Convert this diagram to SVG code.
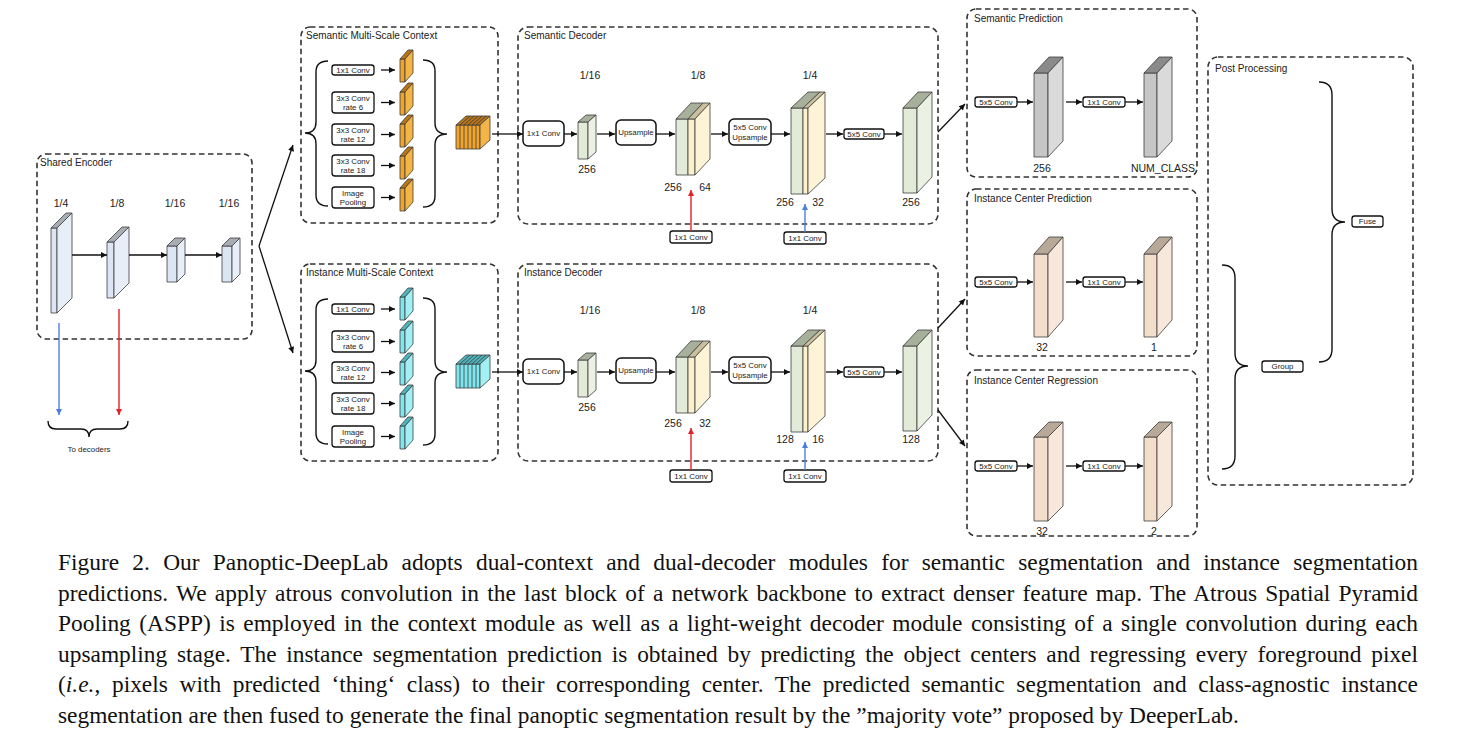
<svg xmlns="http://www.w3.org/2000/svg" width="1476" height="744" viewBox="0 0 1476 744">
<style>
.bg{fill:#fff}
.grp{fill:none;stroke:#333;stroke-width:1.6;stroke-dasharray:5.5 3.5}
.ttl{font-family:"Liberation Sans",Arial,sans-serif;font-size:10px;fill:#222}
.lbl{font-family:"Liberation Sans",Arial,sans-serif;font-size:10.5px;fill:#222;text-anchor:middle}
.bt{font-family:"Liberation Sans",Arial,sans-serif;font-size:7.9px;fill:#222;text-anchor:middle}
.nb{fill:#fff;stroke:#111;stroke-width:1.3}
.nbb{fill:#fff;stroke:#111;stroke-width:1.5}
.cube rect,.cube polygon{stroke:#3c3c3c;stroke-width:0.8;stroke-linejoin:round}
.blue .f{fill:#dce5f3}.blue .t{fill:#a8adb4}.blue .s{fill:#e8eef8}
.org .f{fill:#f0a42c}.org .t{fill:#b87418}.org .s{fill:#f5b446}
.cyan .f{fill:#7ee6ee}.cyan .t{fill:#4fb4bc}.cyan .s{fill:#a2eff4}
.grn .f{fill:#e2ebd7}.grn .t{fill:#a6b09b}.grn .s{fill:#ebf1e3}
.yel .f{fill:#fdf1cb}.yel .t{fill:#cbbf9d}.yel .s{fill:#fdf3d6}
.gry .f{fill:#c6c6c6}.gry .t{fill:#8a8a8a}.gry .s{fill:#dadada}
.pch .f{fill:#f3ddcb}.pch .t{fill:#b8a898}.pch .s{fill:#f8e8dc}
.strp{stroke:#3c3c3c;stroke-width:0.8;fill:none}
.brace{fill:none;stroke:#111;stroke-width:1.4}
.ar{fill:none;stroke:#111;stroke-width:1.3}
.arb{fill:none;stroke:#4a7fe0;stroke-width:1.4}
.arr{fill:none;stroke:#e52222;stroke-width:1.4}
.cap{font-family:"Liberation Serif","Times New Roman",serif;font-size:23.4px;fill:#111}
</style>
<defs>
<marker id="ah" viewBox="0 0 10 10" refX="10" refY="5" markerWidth="7" markerHeight="6" orient="auto" markerUnits="userSpaceOnUse"><path d="M0,0 L10,5 L0,10 z" fill="#111"/></marker>
<marker id="ahb" viewBox="0 0 10 10" refX="10" refY="5" markerWidth="8" markerHeight="6" orient="auto" markerUnits="userSpaceOnUse"><path d="M0,0 L10,5 L0,10 z" fill="#4a7fe0"/></marker>
<marker id="ahr" viewBox="0 0 10 10" refX="10" refY="5" markerWidth="8" markerHeight="6" orient="auto" markerUnits="userSpaceOnUse"><path d="M0,0 L10,5 L0,10 z" fill="#e52222"/></marker>
</defs>
<rect class="bg" x="0" y="0" width="1476" height="744"/>

<!-- Shared Encoder -->
<g id="shared-encoder">
<rect class="grp" x="37" y="154" width="215" height="185" rx="9"/>
<text class="ttl" x="40" y="166">Shared Encoder</text>
<text class="lbl" x="61" y="207">1/4</text>
<text class="lbl" x="117" y="207">1/8</text>
<text class="lbl" x="175" y="207">1/16</text>
<text class="lbl" x="229" y="207">1/16</text>
<g class="cube blue"><rect class="f" x="51" y="228" width="6" height="85"/><polygon class="t" points="51,228 66,213 72,213 57,228"/><polygon class="s" points="57,228 72,213 72,298 57,313"/></g>
<g class="cube blue"><rect class="f" x="107" y="242" width="7" height="56"/><polygon class="t" points="107,242 122,227 129,227 114,242"/><polygon class="s" points="114,242 129,227 129,283 114,298"/></g>
<g class="cube blue"><rect class="f" x="167" y="246" width="10" height="36"/><polygon class="t" points="167,246 175,238 185,238 177,246"/><polygon class="s" points="177,246 185,238 185,274 177,282"/></g>
<g class="cube blue"><rect class="f" x="222" y="246" width="10" height="36"/><polygon class="t" points="222,246 230,238 240,238 232,246"/><polygon class="s" points="232,246 240,238 240,274 232,282"/></g>
</g>
<g id="to-decoders">
<path class="brace" d="M48,421 Q48,429 56,429 L81,429 Q89,429 89,437 Q89,429 97,429 L120,429 Q128,429 128,421"/>
<text class="bt" x="89" y="452">To decoders</text>
</g>

<!-- Semantic Multi-Scale Context -->
<g id="semantic-msc">
<rect class="grp" x="301" y="27" width="197" height="196" rx="9"/>
<text class="ttl" x="306" y="39">Semantic Multi-Scale Context</text>
<path class="brace" d="M328,61 Q316,61 316,72 L316,122 Q316,133 305,133 Q316,133 316,144 L316,195 Q316,206 328,206"/>
<path class="brace" d="M423,60 Q435,60 435,71 L435,123 Q435,134 447,134 Q435,134 435,145 L435,196 Q435,207 423,207"/>
<rect class="nb" x="332" y="65" width="42" height="10" rx="2.5"/><text class="bt" x="353" y="72.8">1x1 Conv</text>
<rect class="nb" x="332" y="92" width="42" height="21" rx="3"/><text class="bt" x="353" y="101">3x3 Conv</text><text class="bt" x="353" y="110">rate 6</text>
<rect class="nb" x="332" y="124" width="42" height="21" rx="3"/><text class="bt" x="353" y="133">3x3 Conv</text><text class="bt" x="353" y="142">rate 12</text>
<rect class="nb" x="332" y="155" width="42" height="21" rx="3"/><text class="bt" x="353" y="164">3x3 Conv</text><text class="bt" x="353" y="173">rate 18</text>
<rect class="nb" x="332" y="187" width="42" height="21" rx="3"/><text class="bt" x="353" y="196">Image</text><text class="bt" x="353" y="205">Pooling</text>
<g class="cube org"><rect class="f" x="400" y="59" width="5" height="23"/><polygon class="t" points="400,59 408,50 413,50 405,59"/><polygon class="s" points="405,59 413,50 413,73 405,82"/></g>
<g class="cube org"><rect class="f" x="400" y="92" width="5" height="23"/><polygon class="t" points="400,92 408,83 413,83 405,92"/><polygon class="s" points="405,92 413,83 413,106 405,115"/></g>
<g class="cube org"><rect class="f" x="400" y="124" width="5" height="23"/><polygon class="t" points="400,124 408,115 413,115 405,124"/><polygon class="s" points="405,124 413,115 413,138 405,147"/></g>
<g class="cube org"><rect class="f" x="400" y="156" width="5" height="23"/><polygon class="t" points="400,156 408,147 413,147 405,156"/><polygon class="s" points="405,156 413,147 413,170 405,179"/></g>
<g class="cube org"><rect class="f" x="400" y="188" width="5" height="23"/><polygon class="t" points="400,188 408,179 413,179 405,188"/><polygon class="s" points="405,188 413,179 413,202 405,211"/></g>
<g class="cube org"><rect class="f" x="456" y="125" width="24" height="24"/><polygon class="t" points="456,125 466,116 490,116 480,125"/><polygon class="s" points="480,125 490,116 490,140 480,149"/>
<path class="strp" d="M460,125V149M464,125V149M468,125V149M472,125V149M476,125V149M460,125L470,116M464,125L474,116M468,125L478,116M472,125L482,116M476,125L486,116"/></g>
</g>

<!-- Instance Multi-Scale Context -->
<g id="instance-msc">
<rect class="grp" x="301" y="264" width="197" height="197" rx="9"/>
<text class="ttl" x="306" y="276">Instance Multi-Scale Context</text>
<g transform="translate(0,238)">
<path class="brace" d="M328,61 Q316,61 316,72 L316,122 Q316,133 305,133 Q316,133 316,144 L316,195 Q316,206 328,206"/>
<path class="brace" d="M423,60 Q435,60 435,71 L435,123 Q435,134 447,134 Q435,134 435,145 L435,196 Q435,207 423,207"/>
<rect class="nb" x="332" y="66" width="42" height="10" rx="2.5"/><text class="bt" x="353" y="73.8">1x1 Conv</text>
<rect class="nb" x="332" y="93" width="42" height="21" rx="3"/><text class="bt" x="353" y="102">3x3 Conv</text><text class="bt" x="353" y="111">rate 6</text>
<rect class="nb" x="332" y="124" width="42" height="21" rx="3"/><text class="bt" x="353" y="133">3x3 Conv</text><text class="bt" x="353" y="142">rate 12</text>
<rect class="nb" x="332" y="155" width="42" height="21" rx="3"/><text class="bt" x="353" y="164">3x3 Conv</text><text class="bt" x="353" y="173">rate 18</text>
<rect class="nb" x="332" y="188" width="42" height="21" rx="3"/><text class="bt" x="353" y="197">Image</text><text class="bt" x="353" y="206">Pooling</text>
<g class="cube cyan"><rect class="f" x="400" y="59" width="5" height="23"/><polygon class="t" points="400,59 408,50 413,50 405,59"/><polygon class="s" points="405,59 413,50 413,73 405,82"/></g>
<g class="cube cyan"><rect class="f" x="400" y="92" width="5" height="23"/><polygon class="t" points="400,92 408,83 413,83 405,92"/><polygon class="s" points="405,92 413,83 413,106 405,115"/></g>
<g class="cube cyan"><rect class="f" x="400" y="124" width="5" height="23"/><polygon class="t" points="400,124 408,115 413,115 405,124"/><polygon class="s" points="405,124 413,115 413,138 405,147"/></g>
<g class="cube cyan"><rect class="f" x="400" y="156" width="5" height="23"/><polygon class="t" points="400,156 408,147 413,147 405,156"/><polygon class="s" points="405,156 413,147 413,170 405,179"/></g>
<g class="cube cyan"><rect class="f" x="400" y="188" width="5" height="23"/><polygon class="t" points="400,188 408,179 413,179 405,188"/><polygon class="s" points="405,188 413,179 413,202 405,211"/></g>
<g class="cube cyan"><rect class="f" x="456" y="126" width="24" height="24"/><polygon class="t" points="456,126 466,117 490,117 480,126"/><polygon class="s" points="480,126 490,117 490,141 480,150"/>
<path class="strp" d="M460,126V150M464,126V150M468,126V150M472,126V150M476,126V150M460,126L470,117M464,126L474,117M468,126L478,117M472,126L482,117M476,126L486,117"/></g>
</g>
</g>

<!-- Semantic Decoder -->
<g id="semantic-decoder">
<rect class="grp" x="518" y="27" width="420" height="197" rx="10"/>
<text class="ttl" x="524" y="39">Semantic Decoder</text>
<text class="lbl" x="590" y="79">1/16</text>
<text class="lbl" x="698" y="79">1/8</text>
<text class="lbl" x="810" y="79">1/4</text>
<rect class="nbb" x="523" y="121" width="41" height="25" rx="5"/><text class="bt" x="543.5" y="136.3">1x1 Conv</text>
<g class="cube grn"><rect class="f" x="578" y="122" width="10" height="37"/><polygon class="t" points="578,122 586,115 596,115 588,122"/><polygon class="s" points="588,122 596,115 596,152 588,159"/></g>
<text class="lbl" x="587" y="173">256</text>
<rect class="nbb" x="616" y="120" width="40" height="25" rx="5"/><text class="bt" x="636" y="135.3">Upsample</text>
<g class="cube grn"><rect class="f" x="676" y="119" width="12" height="56"/><polygon class="t" points="676,119 691,103 703,103 688,119"/></g>
<g class="cube yel"><rect class="f" x="688" y="119" width="7" height="56"/><polygon class="t" points="688,119 703,103 710,103 695,119"/><polygon class="s" points="695,119 710,103 710,159 695,175"/></g>
<text class="lbl" x="673" y="191">256</text>
<text class="lbl" x="705" y="191">64</text>
<rect class="nbb" x="729" y="119" width="42" height="26" rx="5"/><text class="bt" x="750" y="130">5x5 Conv</text><text class="bt" x="750" y="140">Upsample</text>
<g class="cube grn"><rect class="f" x="791" y="108" width="12" height="86"/><polygon class="t" points="791,108 808,92 820,92 803,108"/></g>
<g class="cube yel"><rect class="f" x="803" y="108" width="5" height="86"/><polygon class="t" points="803,108 820,92 825,92 808,108"/><polygon class="s" points="808,108 825,92 825,178 808,194"/></g>
<text class="lbl" x="785" y="206">256</text>
<text class="lbl" x="818" y="206">32</text>
<rect class="nb" x="844" y="129" width="40" height="10" rx="2.5"/><text class="bt" x="864" y="136.8">5x5 Conv</text>
<g class="cube grn"><rect class="f" x="903" y="108" width="14" height="85"/><polygon class="t" points="903,108 918,92 932,92 917,108"/><polygon class="s" points="917,108 932,92 932,177 917,193"/></g>
<text class="lbl" x="911" y="206">256</text>
</g>
<g id="sem-skip-1x1-a"><rect class="nb" x="670" y="231" width="42" height="12" rx="2.5"/><text class="bt" x="691" y="239.8">1x1 Conv</text></g>
<g id="sem-skip-1x1-b"><rect class="nb" x="784" y="232" width="42" height="12" rx="2.5"/><text class="bt" x="805" y="240.8">1x1 Conv</text></g>

<!-- Instance Decoder -->
<g id="instance-decoder">
<rect class="grp" x="518" y="264" width="420" height="197" rx="10"/>
<text class="ttl" x="524" y="276">Instance Decoder</text>
<g transform="translate(0,238)">
<text class="lbl" x="590" y="76">1/16</text>
<text class="lbl" x="698" y="76">1/8</text>
<text class="lbl" x="810" y="76">1/4</text>
<rect class="nbb" x="523" y="121" width="41" height="25" rx="5"/><text class="bt" x="543.5" y="136.3">1x1 Conv</text>
<g class="cube grn"><rect class="f" x="578" y="122" width="10" height="37"/><polygon class="t" points="578,122 586,115 596,115 588,122"/><polygon class="s" points="588,122 596,115 596,152 588,159"/></g>
<text class="lbl" x="587" y="173">256</text>
<rect class="nbb" x="616" y="120" width="40" height="25" rx="5"/><text class="bt" x="636" y="135.3">Upsample</text>
<g class="cube grn"><rect class="f" x="676" y="119" width="12" height="56"/><polygon class="t" points="676,119 691,103 703,103 688,119"/></g>
<g class="cube yel"><rect class="f" x="688" y="119" width="7" height="56"/><polygon class="t" points="688,119 703,103 710,103 695,119"/><polygon class="s" points="695,119 710,103 710,159 695,175"/></g>
<text class="lbl" x="673" y="189">256</text>
<text class="lbl" x="705" y="189">32</text>
<rect class="nbb" x="729" y="119" width="42" height="26" rx="5"/><text class="bt" x="750" y="130">5x5 Conv</text><text class="bt" x="750" y="140">Upsample</text>
<g class="cube grn"><rect class="f" x="791" y="108" width="12" height="86"/><polygon class="t" points="791,108 808,92 820,92 803,108"/></g>
<g class="cube yel"><rect class="f" x="803" y="108" width="5" height="86"/><polygon class="t" points="803,108 820,92 825,92 808,108"/><polygon class="s" points="808,108 825,92 825,178 808,194"/></g>
<text class="lbl" x="785" y="205">128</text>
<text class="lbl" x="818" y="205">16</text>
<rect class="nb" x="844" y="129" width="40" height="10" rx="2.5"/><text class="bt" x="864" y="136.8">5x5 Conv</text>
<g class="cube grn"><rect class="f" x="903" y="108" width="14" height="85"/><polygon class="t" points="903,108 918,92 932,92 917,108"/><polygon class="s" points="917,108 932,92 932,177 917,193"/></g>
<text class="lbl" x="911" y="205">128</text>
</g>
</g>
<g id="ins-skip-1x1-a"><rect class="nb" x="670" y="470" width="42" height="12" rx="2.5"/><text class="bt" x="691" y="478.8">1x1 Conv</text></g>
<g id="ins-skip-1x1-b"><rect class="nb" x="784" y="470" width="42" height="12" rx="2.5"/><text class="bt" x="805" y="478.8">1x1 Conv</text></g>

<!-- Semantic Prediction -->
<g id="semantic-prediction">
<rect class="grp" x="967" y="9" width="230" height="168" rx="9"/>
<text class="ttl" x="974" y="22">Semantic Prediction</text>
<rect class="nb" x="975" y="97" width="42" height="10" rx="2.5"/><text class="bt" x="996" y="104.8">5x5 Conv</text>
<g class="cube gry"><rect class="f" x="1034" y="73" width="14" height="84"/><polygon class="t" points="1034,73 1049,57 1063,57 1048,73"/><polygon class="s" points="1048,73 1063,57 1063,141 1048,157"/></g>
<rect class="nb" x="1083" y="97" width="42" height="10" rx="2.5"/><text class="bt" x="1104" y="104.8">1x1 Conv</text>
<g class="cube gry"><rect class="f" x="1144" y="73" width="13" height="84"/><polygon class="t" points="1144,73 1159,57 1172,57 1157,73"/><polygon class="s" points="1157,73 1172,57 1172,141 1157,157"/></g>
<text class="lbl" x="1042" y="172">256</text>
<text class="lbl" x="1163" y="172">NUM_CLASS</text>
</g>

<!-- Instance Center Prediction -->
<g id="instance-center-prediction">
<rect class="grp" x="967" y="189" width="230" height="167" rx="9"/>
<text class="ttl" x="974" y="202">Instance Center Prediction</text>
<rect class="nb" x="975" y="277" width="42" height="10" rx="2.5"/><text class="bt" x="996" y="284.8">5x5 Conv</text>
<g class="cube pch"><rect class="f" x="1034" y="254" width="14" height="83"/><polygon class="t" points="1034,254 1049,237 1063,237 1048,254"/><polygon class="s" points="1048,254 1063,237 1063,320 1048,337"/></g>
<rect class="nb" x="1083" y="277" width="42" height="10" rx="2.5"/><text class="bt" x="1104" y="284.8">1x1 Conv</text>
<g class="cube pch"><rect class="f" x="1144" y="254" width="13" height="83"/><polygon class="t" points="1144,254 1159,237 1172,237 1157,254"/><polygon class="s" points="1157,254 1172,237 1172,320 1157,337"/></g>
<text class="lbl" x="1042" y="351">32</text>
<text class="lbl" x="1154" y="351">1</text>
</g>

<!-- Instance Center Regression -->
<g id="instance-center-regression">
<rect class="grp" x="967" y="370" width="230" height="166" rx="9"/>
<text class="ttl" x="974" y="384">Instance Center Regression</text>
<rect class="nb" x="975" y="461" width="42" height="10" rx="2.5"/><text class="bt" x="996" y="468.8">5x5 Conv</text>
<g class="cube pch"><rect class="f" x="1034" y="437" width="14" height="84"/><polygon class="t" points="1034,437 1049,422 1063,422 1048,437"/><polygon class="s" points="1048,437 1063,422 1063,506 1048,521"/></g>
<rect class="nb" x="1083" y="461" width="42" height="10" rx="2.5"/><text class="bt" x="1104" y="468.8">1x1 Conv</text>
<g class="cube pch"><rect class="f" x="1144" y="437" width="13" height="84"/><polygon class="t" points="1144,437 1159,422 1172,422 1157,437"/><polygon class="s" points="1157,437 1172,422 1172,506 1157,521"/></g>
<text class="lbl" x="1042" y="535">32</text>
<text class="lbl" x="1154" y="535">2</text>
</g>

<!-- Post Processing -->
<g id="post-processing">
<rect class="grp" x="1208" y="57" width="205" height="428" rx="10"/>
<text class="ttl" x="1215" y="72">Post Processing</text>
<path class="brace" d="M1319,82 Q1332,82 1332,95 L1332,209 Q1332,222 1345,222 Q1332,222 1332,235 L1332,349 Q1332,362 1319,362"/>
<path class="brace" d="M1222,265 Q1235,265 1235,278 L1235,353 Q1235,366 1248,366 Q1235,366 1235,379 L1235,456 Q1235,469 1222,469"/>
</g>
<g id="fuse"><rect class="nb" x="1352" y="216" width="31" height="11" rx="2.5"/><text class="bt" x="1367.5" y="224.3">Fuse</text></g>
<g id="group"><rect class="nb" x="1262" y="361" width="41" height="11" rx="2.5"/><text class="bt" x="1282.5" y="369.3">Group</text></g>

<!-- Connectors -->
<g id="connectors">
<path class="ar" marker-end="url(#ah)" d="M72,255H107"/>
<path class="ar" marker-end="url(#ah)" d="M129,255H167"/>
<path class="ar" marker-end="url(#ah)" d="M185,255H222"/>
<path class="arb" marker-end="url(#ahb)" d="M59,323V415"/>
<path class="arr" marker-end="url(#ahr)" d="M119,309V415"/>
<path class="ar" marker-end="url(#ah)" d="M259,246L293,145"/>
<path class="ar" marker-end="url(#ah)" d="M259,246L293,353"/>
<path class="ar" marker-end="url(#ah)" d="M381,70H395"/>
<path class="ar" marker-end="url(#ah)" d="M381,102.5H395"/>
<path class="ar" marker-end="url(#ah)" d="M381,134.5H395"/>
<path class="ar" marker-end="url(#ah)" d="M381,165.5H395"/>
<path class="ar" marker-end="url(#ah)" d="M381,197.5H395"/>
<path class="ar" marker-end="url(#ah)" d="M381,309H395"/>
<path class="ar" marker-end="url(#ah)" d="M381,341.5H395"/>
<path class="ar" marker-end="url(#ah)" d="M381,372.5H395"/>
<path class="ar" marker-end="url(#ah)" d="M381,403.5H395"/>
<path class="ar" marker-end="url(#ah)" d="M381,436.5H395"/>
<path class="ar" marker-end="url(#ah)" d="M492,134H523"/>
<path class="ar" marker-end="url(#ah)" d="M492,372H523"/>
<path class="ar" marker-end="url(#ah)" d="M564,134H577"/>
<path class="ar" marker-end="url(#ah)" d="M597,134H615"/>
<path class="ar" marker-end="url(#ah)" d="M656,134H675"/>
<path class="ar" marker-end="url(#ah)" d="M711,134H728"/>
<path class="ar" marker-end="url(#ah)" d="M771,134H790"/>
<path class="ar" marker-end="url(#ah)" d="M826,134H843"/>
<path class="ar" marker-end="url(#ah)" d="M884,134H902"/>
<path class="arr" marker-end="url(#ahr)" d="M691,231V190"/>
<path class="arb" marker-end="url(#ahb)" d="M805,232V204"/>
<path class="ar" marker-end="url(#ah)" d="M564,372H577"/>
<path class="ar" marker-end="url(#ah)" d="M597,372H615"/>
<path class="ar" marker-end="url(#ah)" d="M656,372H675"/>
<path class="ar" marker-end="url(#ah)" d="M711,372H728"/>
<path class="ar" marker-end="url(#ah)" d="M771,372H790"/>
<path class="ar" marker-end="url(#ah)" d="M826,372H843"/>
<path class="ar" marker-end="url(#ah)" d="M884,372H902"/>
<path class="arr" marker-end="url(#ahr)" d="M691,470V428"/>
<path class="arb" marker-end="url(#ahb)" d="M805,470V442"/>
<path class="ar" marker-end="url(#ah)" d="M938,132L965,104"/>
<path class="ar" marker-end="url(#ah)" d="M938,328L965,299"/>
<path class="ar" marker-end="url(#ah)" d="M938,410L965,446"/>
<path class="ar" marker-end="url(#ah)" d="M1017,102H1033"/>
<path class="ar" marker-end="url(#ah)" d="M1066,102H1082"/>
<path class="ar" marker-end="url(#ah)" d="M1125,102H1143"/>
<path class="ar" marker-end="url(#ah)" d="M1017,282H1033"/>
<path class="ar" marker-end="url(#ah)" d="M1066,282H1082"/>
<path class="ar" marker-end="url(#ah)" d="M1125,282H1143"/>
<path class="ar" marker-end="url(#ah)" d="M1017,466H1033"/>
<path class="ar" marker-end="url(#ah)" d="M1066,466H1082"/>
<path class="ar" marker-end="url(#ah)" d="M1125,466H1143"/>
</g>

<!-- Caption -->
<g id="caption">
<text class="cap" x="58" y="570" word-spacing="7.4" textLength="1360" lengthAdjust="spacing">Figure 2. Our Panoptic-DeepLab adopts dual-context and dual-decoder modules for semantic segmentation and instance segmentation</text>
<text class="cap" x="58" y="600.5" word-spacing="2.3" textLength="1360" lengthAdjust="spacing">predictions. We apply atrous convolution in the last block of a network backbone to extract denser feature map. The Atrous Spatial Pyramid</text>
<text class="cap" x="58" y="631" word-spacing="2.6" textLength="1360" lengthAdjust="spacing">Pooling (ASPP) is employed in the context module as well as a light-weight decoder module consisting of a single convolution during each</text>
<text class="cap" x="58" y="661.5" word-spacing="3.85" textLength="1360" lengthAdjust="spacing">upsampling stage. The instance segmentation prediction is obtained by predicting the object centers and regressing every foreground pixel</text>
<text class="cap" x="58" y="692" word-spacing="5.7" textLength="1360" lengthAdjust="spacing">(<tspan font-style="italic">i.e.</tspan>, pixels with predicted ‘thing‘ class) to their corresponding center. The predicted semantic segmentation and class-agnostic instance</text>
<text class="cap" x="58" y="722.5">segmentation are then fused to generate the final panoptic segmentation result by the ”majority vote” proposed by DeeperLab.</text>
</g>
</svg>
